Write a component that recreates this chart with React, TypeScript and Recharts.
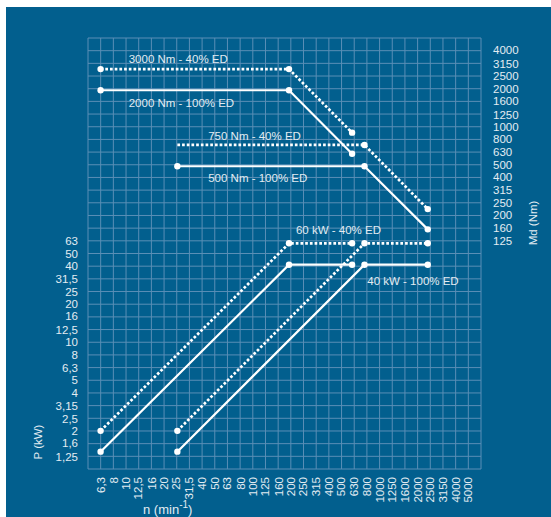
import { LineChart, Line, XAxis, YAxis, CartesianGrid, ReferenceDot, Label } from 'recharts';

// R10 tick series of the three log axes
const SPEED_TICKS = [6.3, 8, 10, 12.5, 16, 20, 25, 31.5, 40, 50, 63, 80, 100, 125, 160, 200, 250, 315, 400, 500, 630, 800, 1000, 1250, 1600, 2000, 2500, 3150, 4000, 5000];
const POWER_TICKS = [1.25, 1.6, 2, 2.5, 3.15, 4, 5, 6.3, 8, 10, 12.5, 16, 20, 25, 31.5, 40, 50, 63];
const TORQUE_TICKS = [125, 160, 200, 250, 315, 400, 500, 630, 800, 1000, 1250, 1600, 2000, 2500, 3150, 4000];

// speed points (min-1) for the two ranges
const SPEED_LOW = [6.3, 193, 607];
const SPEED_HIGH = [25.4, 760, 2400];

// torque (Nm)
const TORQUE_40_LOW = [2850, 2850, 898];
const TORQUE_100_LOW = [1940, 1940, 612];
const TORQUE_40_HIGH = [718, 718, 224];
const TORQUE_100_HIGH = [488, 488, 155];

// power (kW)
const POWER_40 = [2.0, 60.3, 60.3];
const POWER_100 = [1.37, 40.9, 40.9];

const SERIES = [
    { key: 't40low', axis: 'md', speeds: SPEED_LOW, values: TORQUE_40_LOW, dotted: true, firstDot: true },
    { key: 't100low', axis: 'md', speeds: SPEED_LOW, values: TORQUE_100_LOW, dotted: false, firstDot: true },
    { key: 't40high', axis: 'md', speeds: SPEED_HIGH, values: TORQUE_40_HIGH, dotted: true, firstDot: false },
    { key: 't100high', axis: 'md', speeds: SPEED_HIGH, values: TORQUE_100_HIGH, dotted: false, firstDot: true },
    { key: 'p40low', axis: 'p', speeds: SPEED_LOW, values: POWER_40, dotted: true, firstDot: true },
    { key: 'p100low', axis: 'p', speeds: SPEED_LOW, values: POWER_100, dotted: false, firstDot: true },
    { key: 'p40high', axis: 'p', speeds: SPEED_HIGH, values: POWER_40, dotted: true, firstDot: true },
    { key: 'p100high', axis: 'p', speeds: SPEED_HIGH, values: POWER_100, dotted: false, firstDot: true },
];

const ANNOTATIONS = [
    { text: '3000 Nm - 40% ED', n: 10.5, v: 3450, axis: 'md' },
    { text: '2000 Nm - 100% ED', n: 10.5, v: 1530, axis: 'md' },
    { text: '750 Nm - 40% ED', n: 44.5, v: 845, axis: 'md' },
    { text: '500 Nm - 100% ED', n: 44.5, v: 395, axis: 'md' },
    { text: '60 kW - 40% ED', n: 219, v: 77, axis: 'p' },
    { text: '40 kW - 100% ED', n: 800, v: 30.4, axis: 'p' },
];

const BG = '#025f8e';
const GRID = '#5a8fb6';
const TEXT = '#e2ecf2';
const FONT = '"Liberation Sans", Arial, sans-serif';

const fmt = (v: number) => String(v).replace('.', ',');

// grid = one line per R10 step, borders included
const colLines = ({ offset }: any) => Array.from({ length: 32 }, (_, k) => offset.left + (k * offset.width) / 31);
const rowLines = ({ offset }: any) => Array.from({ length: 35 }, (_, k) => offset.top + (k * offset.height) / 34);

const SpeedTick = ({ x, y, payload }: any) => (
    <text x={x} y={y} dy="0.35em" transform={`rotate(-90 ${x} ${y})`} textAnchor="end" fill={TEXT} fontSize={11.5} fontFamily={FONT}>
        {fmt(payload.value)}
    </text>
);

const makeDot = (showFirst: boolean) => (props: any) => {
    const { cx, cy, index } = props;
    if (!showFirst && index === 0) return <g key={`d-${index}`} />;
    return <circle key={`d-${index}`} cx={cx} cy={cy} r={3.2} fill="#fff" stroke="none" />;
};

export default function App() {
    return (
        <div style={{ position: 'absolute', left: 6, top: 7, width: 545, height: 510, background: BG, fontFamily: FONT }}>
            <LineChart width={545} height={510} margin={{ top: 31, right: 0, bottom: 0, left: 0 }}>
                <CartesianGrid stroke={GRID} strokeWidth={1} verticalCoordinatesGenerator={colLines} horizontalCoordinatesGenerator={rowLines} />
                <XAxis
                    dataKey="n"
                    type="number"
                    scale="log"
                    domain={[5.012, 6310]}
                    allowDataOverflow
                    ticks={SPEED_TICKS}
                    interval={0}
                    height={48}
                    axisLine={false}
                    tickLine={false}
                    tickSize={0}
                    tickMargin={8}
                    tick={<SpeedTick />}
                >
                    <Label
                        content={() => (
                            <text x={137} y={507} fill={TEXT} fontSize={13} fontFamily={FONT}>
                                n (min<tspan fontSize={10} dy={-6}>-1</tspan><tspan dy={6}>)</tspan>
                            </text>
                        )}
                    />
                </XAxis>
                <YAxis
                    yAxisId="p"
                    orientation="left"
                    type="number"
                    scale="log"
                    domain={[1, 2511.9]}
                    allowDataOverflow
                    ticks={POWER_TICKS}
                    interval={0}
                    width={82}
                    axisLine={false}
                    tickLine={false}
                    tickSize={0}
                    tickMargin={10}
                    tickFormatter={fmt}
                    tick={{ fill: TEXT, fontSize: 11.5, fontFamily: FONT }}
                >
                    <Label
                        content={() => (
                            <text x={32} y={435} transform="rotate(-90 32 435)" textAnchor="middle" dy="0.35em" fill={TEXT} fontSize={11.5} fontFamily={FONT}>
                                P (kW)
                            </text>
                        )}
                    />
                </YAxis>
                <YAxis
                    yAxisId="md"
                    orientation="right"
                    type="number"
                    scale="log"
                    domain={[1.9953, 5011.9]}
                    allowDataOverflow
                    ticks={TORQUE_TICKS}
                    interval={0}
                    width={70}
                    axisLine={false}
                    tickLine={false}
                    tickSize={0}
                    tickMargin={12}
                    tick={{ fill: TEXT, fontSize: 11.5, fontFamily: FONT }}
                >
                    <Label
                        content={() => (
                            <text x={527} y={216} transform="rotate(-90 527 216)" textAnchor="middle" dy="0.35em" fill={TEXT} fontSize={11.5} fontFamily={FONT}>
                                Md (Nm)
                            </text>
                        )}
                    />
                </YAxis>

                {SERIES.map((s) => (
                    <Line
                        key={s.key}
                        yAxisId={s.axis}
                        data={s.speeds.map((n, i) => ({ n, v: s.values[i] }))}
                        dataKey="v"
                        type="linear"
                        stroke="#fff"
                        strokeWidth={s.dotted ? 2.7 : 2.2}
                        strokeDasharray={s.dotted ? '2.7 2' : undefined}
                        dot={makeDot(s.firstDot)}
                        activeDot={false}
                        isAnimationActive={false}
                    />
                ))}

                {ANNOTATIONS.map((a) => (
                    <ReferenceDot
                        key={a.text}
                        x={a.n}
                        y={a.v}
                        yAxisId={a.axis}
                        r={0}
                        ifOverflow="visible"
                        shape={(p: any) => (
                            <text x={p.cx} y={p.cy} dy="0.35em" fill={TEXT} fontSize={11.5} fontFamily={FONT}>
                                {a.text}
                            </text>
                        )}
                    />
                ))}
            </LineChart>
        </div>
    );
}
